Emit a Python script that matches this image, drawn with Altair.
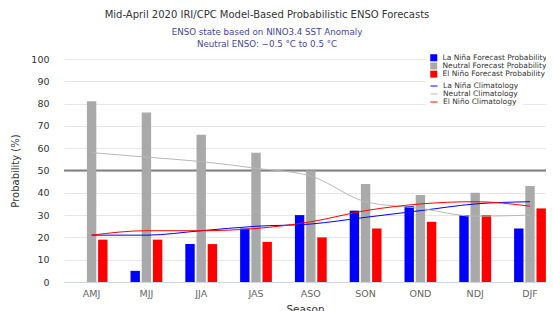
import altair as alt
import pandas as pd

seasons = ["AMJ", "MJJ", "JJA", "JAS", "ASO", "SON", "OND", "NDJ", "DJF"]
lanina = [0, 5, 17, 24, 30, 32, 34, 30, 24]
neutral = [81, 76, 66, 58, 50, 44, 39, 40, 43]
elnino = [19, 19, 17, 18, 20, 24, 27, 30, 33]
clim_lanina = [21, 21, 23, 25, 26, 29, 32, 35, 36]
clim_neutral = [58, 56, 54, 51, 47.5, 36, 33, 29.5, 30]
clim_elnino = [21, 23, 23, 24, 27, 32, 35, 36, 34]
y_ticks = [0, 10, 20, 30, 40, 50, 60, 70, 80, 90, 100]

bar_names = ["La Niña Forecast Probability", "Neutral Forecast Probability", "El Niño Forecast Probability"]
bar_colors = ["#0000ff", "#a9a9a9", "#ff0000"]
line_names = ["La Niña Climatology", "Neutral Climatology", "El Niño Climatology"]
line_colors = ["#0000ff", "#b8b8b8", "#ff0000"]

bars = pd.DataFrame(
    [{"season": s, "type": bar_names[k], "value": v}
     for k, arr in enumerate([lanina, neutral, elnino])
     for s, v in zip(seasons, arr)]
)
lines = pd.DataFrame(
    [{"season": s, "series": line_names[k], "value": v}
     for k, arr in enumerate([clim_lanina, clim_neutral, clim_elnino])
     for s, v in zip(seasons, arr)]
)

FONT = "DejaVu Sans"

x_scale = alt.Scale(domain=seasons, paddingInner=0.42, paddingOuter=0.108, align=0.99)
y_scale = alt.Scale(domain=[0, 100], nice=False)

x_axis = alt.Axis(
    title="Season", labelAngle=0, labelFontSize=9.5, labelColor="#666666",
    domainColor="#ccd6eb", ticks=False, labelPadding=6, titleFontSize=10.5,
    titleFontWeight="normal", titleColor="#333333", titlePadding=7,
)
y_axis = alt.Axis(
    title="Probability (%)", values=y_ticks, tickCount=20, grid=True,
    gridColor="#e6e6e6", domain=False, ticks=False, labelPadding=15,
    labelFontSize=9.5, labelColor="#333333", titleFontSize=10, labelOverlap=False,
    titleFontWeight="normal", titleColor="#333333", titlePadding=10,
)

ref50 = alt.Chart(pd.DataFrame({"y": [50]})).mark_rule(color="#808080", strokeWidth=2).encode(
    y=alt.Y("y:Q", scale=y_scale, axis=y_axis)
)

base_bar = alt.Chart(bars).mark_bar().encode(
    x=alt.X("season:N", scale=x_scale, axis=x_axis, sort=seasons),
    xOffset=alt.XOffset("type:N", sort=bar_names,
                        scale=alt.Scale(domain=bar_names, paddingInner=0.16, paddingOuter=0)),
    y=alt.Y("value:Q", scale=y_scale, axis=y_axis),
    color=alt.Color("type:N", scale=alt.Scale(domain=bar_names, range=bar_colors),
                    legend=alt.Legend(title=None, orient="none", legendX=362, legendY=-9,
                                      symbolType="square", symbolSize=49, symbolStrokeWidth=0,
                                      labelFontSize=7.5, labelColor="#333333", rowPadding=-0.8,
                                      padding=4, labelOffset=5,
                                      fillColor="#ffffff", labelLimit=200)),
)

clim = alt.Chart(lines).mark_line(strokeWidth=1, interpolate="monotone").encode(
    x=alt.X("season:N", scale=x_scale, sort=seasons),
    y=alt.Y("value:Q", scale=y_scale),
    stroke=alt.Stroke("series:N", scale=alt.Scale(domain=line_names, range=line_colors),
                      legend=alt.Legend(title=None, orient="none", legendX=362, legendY=19,
                                        symbolType="stroke", symbolSize=49, symbolStrokeWidth=1,
                                        labelFontSize=7.5, labelColor="#333333", rowPadding=-0.5,
                                        padding=4, labelOffset=5,
                                        fillColor="#ffffff", labelLimit=200)),
    detail="series:N",
)

chart = alt.layer(ref50, base_bar, clim).properties(
    width=482,
    height=223,
    autosize=alt.AutoSizeParams(type="none"),
    padding={"left": 56, "top": 51, "right": 0, "bottom": 30},
    title=alt.TitleParams(
        text="Mid-April 2020 IRI/CPC Model-Based Probabilistic ENSO Forecasts",
        subtitle=["ENSO state based on NINO3.4 SST Anomaly", "Neutral ENSO: \u22120.5 \u00b0C to 0.5 \u00b0C"],
        anchor="middle", dx=-38, fontSize=10, fontWeight="normal", color="#333333",
        subtitleFontSize=8.7, subtitleColor="#45449a", subtitlePadding=8,
        subtitleLineHeight=12, offset=1, font=FONT, subtitleFont=FONT,
    ),
).configure(font=FONT).configure_view(stroke=None)

chart.save("out.html", embed_options={"renderer": "svg", "actions": False})
